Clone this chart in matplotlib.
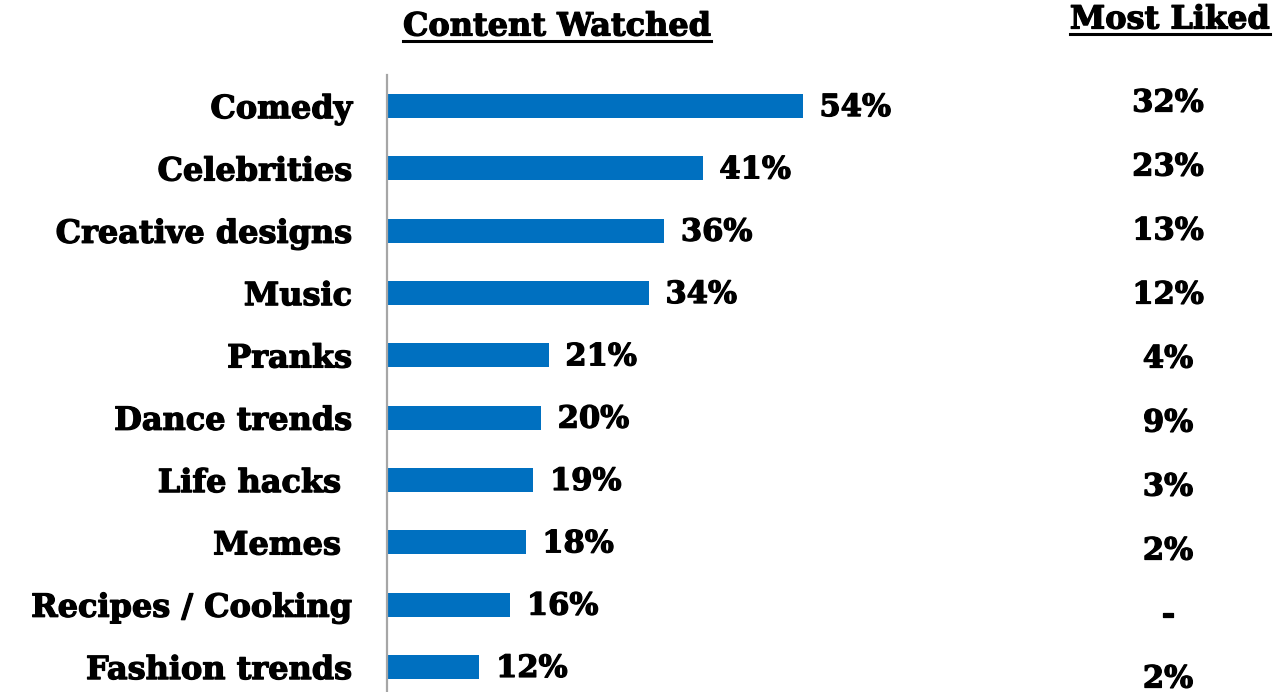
import matplotlib
matplotlib.use("Agg")
import matplotlib.pyplot as plt
from matplotlib.lines import Line2D
import matplotlib.patheffects as pe

categories = ["Comedy", "Celebrities", "Creative designs", "Music", "Pranks",
              "Dance trends", "Life hacks ", "Memes ", "Recipes / Cooking", "Fashion trends"]
watched = [54, 41, 36, 34, 21, 20, 19, 18, 16, 12]
most_liked = ["32%", "23%", "13%", "12%", "4%", "9%", "3%", "2%", "-", "2%"]

FONT = "DejaVu Serif"
BLUE = "#0070C0"
heavy = [pe.withStroke(linewidth=0.9, foreground="black")]
txt = dict(fontfamily=FONT, fontweight="bold", path_effects=heavy)

W, H = 1277, 692
fig = plt.figure(figsize=(W / 100, H / 100), dpi=100)

# main bar axes
left, right, top, bottom = 387, 1003, 75, 692
ax = fig.add_axes([left / W, (H - bottom) / H, (right - left) / W, (bottom - top) / H])
ypos = list(range(len(categories)))
ax.barh(ypos, watched, height=0.385, color=BLUE)
ax.set_xlim(0, 80)
ax.set_ylim(len(categories) - 1 + 0.4, -0.5)
for s in ["top", "right", "bottom"]:
    ax.spines[s].set_visible(False)
ax.spines["left"].set_color("#a6a6a6")
ax.spines["left"].set_linewidth(1.6)
ax.set_xticks([])
ax.set_yticks(ypos)
ax.set_yticklabels(categories, fontsize=23, **txt)
ax.tick_params(axis="y", length=0, pad=25)
for lbl in ax.get_yticklabels():
    lbl.set_verticalalignment("center_baseline")

for y, v in zip(ypos, watched):
    ax.annotate(f"{v}%", (v, y), xytext=(12, -1), textcoords="offset points",
                ha="left", va="center", fontsize=22, **txt)

# "Most Liked" column
t2, b2 = 71, 711
ax2 = fig.add_axes([1068 / W, (H - b2) / H, 200 / W, (b2 - t2) / H])
ax2.set_xlim(0, 1)
ax2.set_ylim(len(categories) - 0.5, -0.5)
ax2.axis("off")
for y, s in zip(ypos, most_liked):
    ax2.text(0.5, y, s, ha="center", va="center", fontsize=22, **txt)

# underlined column headers
headers = [
    fig.text(557 / W, 1 - 27 / H, "Content Watched", ha="center", va="center",
             fontsize=23, **txt),
    fig.text(1170 / W, 1 - 20 / H, "Most Liked", ha="center", va="center",
             fontsize=23, **txt),
]
fig.canvas.draw()
renderer = fig.canvas.get_renderer()
for t in headers:
    bb = t.get_window_extent(renderer)
    yline = bb.y0 + 2
    fig.add_artist(Line2D([bb.x0 / W, bb.x1 / W], [yline / H, yline / H],
                          transform=fig.transFigure, color="black", linewidth=2.2))

fig.savefig("out.png", dpi=100, facecolor="white")
